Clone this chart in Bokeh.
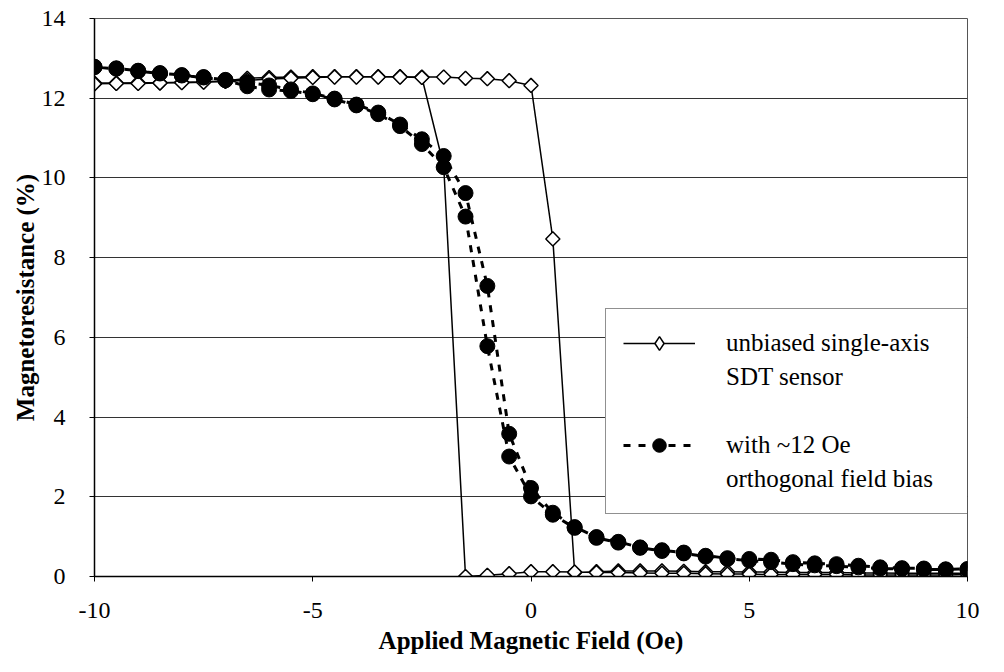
from bokeh.plotting import figure
from bokeh.models import Range1d, Legend, LegendItem, FixedTicker, PrintfTickFormatter
from bokeh.core.properties import value
from bokeh.embed import file_html
from bokeh.resources import INLINE
import numpy as np

# Applied field sweep (Oe)
field_up = [-10, -9.5, -9, -8.5, -8, -7.5, -7, -6.5, -6, -5.5, -5, -4.5, -4, -3.5, -3,
            -2.5, -2, -1.5, -1, -0.5, 0, 0.5, 1, 1.5, 2, 2.5, 3, 3.5, 4, 4.5, 5,
            5.5, 6, 6.5, 7, 7.5, 8, 8.5, 9, 9.5, 10]
field_down = [10, 9.5, 9, 8.5, 8, 7.5, 7, 6.5, 6, 5.5, 5, 4.5, 4, 3.5, 3, 2.5, 2,
              1.5, 1, 0.5, 0, -0.5, -1, -1.5, -2, -2.5, -3, -3.5, -4, -4.5, -5,
              -5.5, -6, -6.5, -7, -7.5, -8, -8.5, -9, -9.5, -10]

# Unbiased single-axis SDT sensor (%)
mr_unbiased_up = [12.38, 12.38, 12.39, 12.39, 12.40, 12.41, 12.43, 12.50, 12.52, 12.53, 12.54,
                  12.54, 12.54, 12.54, 12.54, 12.53, 12.53, 12.50, 12.49, 12.44, 12.32,
                  8.47, 0.10, 0.12, 0.14, 0.14, 0.14, 0.13, 0.12, 0.12, 0.11,
                  0.11, 0.10, 0.10, 0.10, 0.09, 0.09, 0.08, 0.08, 0.08, 0.08]
mr_unbiased_down = [0.05, 0.04, 0.04, 0.04, 0.04, 0.04, 0.05, 0.05, 0.05, 0.05, 0.06,
                    0.06, 0.07, 0.08, 0.08, 0.09, 0.10, 0.10, 0.11, 0.12, 0.12,
                    0.07, 0.03, 0.00, 10.30, 12.52, 12.53, 12.53, 12.53, 12.53, 12.52,
                    12.50, 12.48, 12.45, 12.42, 12.40, 12.39, 12.38, 12.37, 12.37, 12.36]

# With ~12 Oe orthogonal field bias (%)
mr_biased_up = [12.79, 12.75, 12.69, 12.63, 12.58, 12.53, 12.46, 12.40, 12.32, 12.22, 12.12,
                11.99, 11.84, 11.64, 11.34, 10.97, 10.55, 9.62, 7.29, 3.58, 2.22,
                1.60, 1.24, 0.99, 0.87, 0.73, 0.66, 0.60, 0.52, 0.46, 0.44,
                0.42, 0.36, 0.33, 0.31, 0.27, 0.23, 0.21, 0.20, 0.18, 0.19]
mr_biased_down = [0.17, 0.17, 0.18, 0.19, 0.20, 0.23, 0.26, 0.28, 0.31, 0.36, 0.40,
                  0.44, 0.50, 0.58, 0.64, 0.72, 0.85, 0.97, 1.22, 1.55, 2.01,
                  3.01, 5.78, 9.03, 10.27, 10.85, 11.30, 11.60, 11.82, 11.97, 12.10,
                  12.18, 12.22, 12.30, 12.45, 12.52, 12.57, 12.62, 12.68, 12.74, 12.78]

x_ticks = [-10, -5, 0, 5, 10]
y_ticks = [0, 2, 4, 6, 8, 10, 12, 14]

legend_labels = ["unbiased single-axis", "SDT sensor", " ", "with ~12 Oe", "orthogonal field bias"]

field_all = field_up + field_down
mr_unbiased = mr_unbiased_up + mr_unbiased_down
mr_biased = mr_biased_up + mr_biased_down

FONT = "Liberation Serif"

p = figure(width=988, height=656, output_backend="svg", toolbar_location=None,
           x_range=Range1d(-10, 10), y_range=Range1d(0, 14),
           min_border_left=94, min_border_right=21, min_border_top=18, min_border_bottom=79)
p.background_fill_color = "white"
p.border_fill_color = "white"
p.outline_line_color = "#555555"
p.outline_line_width = 1

p.xgrid.visible = False
p.ygrid.grid_line_color = "#333333"
p.ygrid.grid_line_width = 1
p.xaxis.ticker = FixedTicker(ticks=x_ticks)
p.yaxis.ticker = FixedTicker(ticks=y_ticks)
p.xaxis.formatter = PrintfTickFormatter(format="%d")
p.yaxis.formatter = PrintfTickFormatter(format="%d")

for ax in (p.xaxis, p.yaxis):
    ax.axis_line_color = "black"
    ax.axis_line_width = 1.5
    ax.major_tick_line_color = "black"
    ax.major_tick_out = 5
    ax.major_tick_in = 0
    ax.minor_tick_line_color = None
    ax.major_label_text_font = FONT
    ax.major_label_text_font_size = "24px"
    ax.major_label_text_color = "black"
    ax.axis_label_text_font = FONT
    ax.axis_label_text_font_style = "bold"
    ax.axis_label_text_font_size = "25px"
    ax.axis_label_text_color = "black"

p.xaxis.axis_label = "Applied Magnetic Field (Oe)"
p.yaxis.axis_label = "Magnetoresistance (%)"
p.xaxis.major_label_standoff = 21
p.xaxis.axis_label_standoff = 6
p.yaxis.major_label_standoff = 24
p.yaxis.axis_label_standoff = 0

r_u_line = p.line(field_all, mr_unbiased, line_color="black", line_width=1.5)
r_u_pts = p.scatter(field_all, mr_unbiased, marker="square", angle=np.pi / 4, size=10,
                    fill_color="white", line_color="black", line_width=1.5)
r_b_line = p.line(field_all, mr_biased, line_color="black", line_width=3, line_dash="7 8")
r_b_pts = p.scatter(field_all, mr_biased, marker="circle", size=15,
                    fill_color="black", line_color="black")

# legend-only sample glyphs (NaN data, never drawn in the plot area)
nan_x = [np.nan]
nan_y = [np.nan]
r_leg_u_pts = p.scatter(x=nan_x, y=nan_y, marker="diamond", size=21,
                        fill_color="white", line_color="black", line_width=1.5)
r_blank = p.line(x=nan_x, y=nan_y, line_alpha=0)

items = [
    LegendItem(label=value(legend_labels[0]), renderers=[r_u_line, r_leg_u_pts]),
    LegendItem(label=value(legend_labels[1]), renderers=[r_blank]),
    LegendItem(label=value(legend_labels[2]), renderers=[r_blank]),
    LegendItem(label=value(legend_labels[3]), renderers=[r_b_line, r_b_pts]),
    LegendItem(label=value(legend_labels[4]), renderers=[r_blank]),
]
legend = Legend(items=items, location=(511, 62), orientation="vertical",
                label_text_font=FONT, label_text_font_size="25px", label_text_color="black",
                label_height=34, glyph_height=34, glyph_width=72, label_standoff=31,
                label_width=250, padding=17, spacing=0, margin=0,
                border_line_color="#222222", border_line_width=1,
                background_fill_color="white", background_fill_alpha=1.0)
p.add_layout(legend)

open("out.html", "w").write(file_html(p, INLINE))
